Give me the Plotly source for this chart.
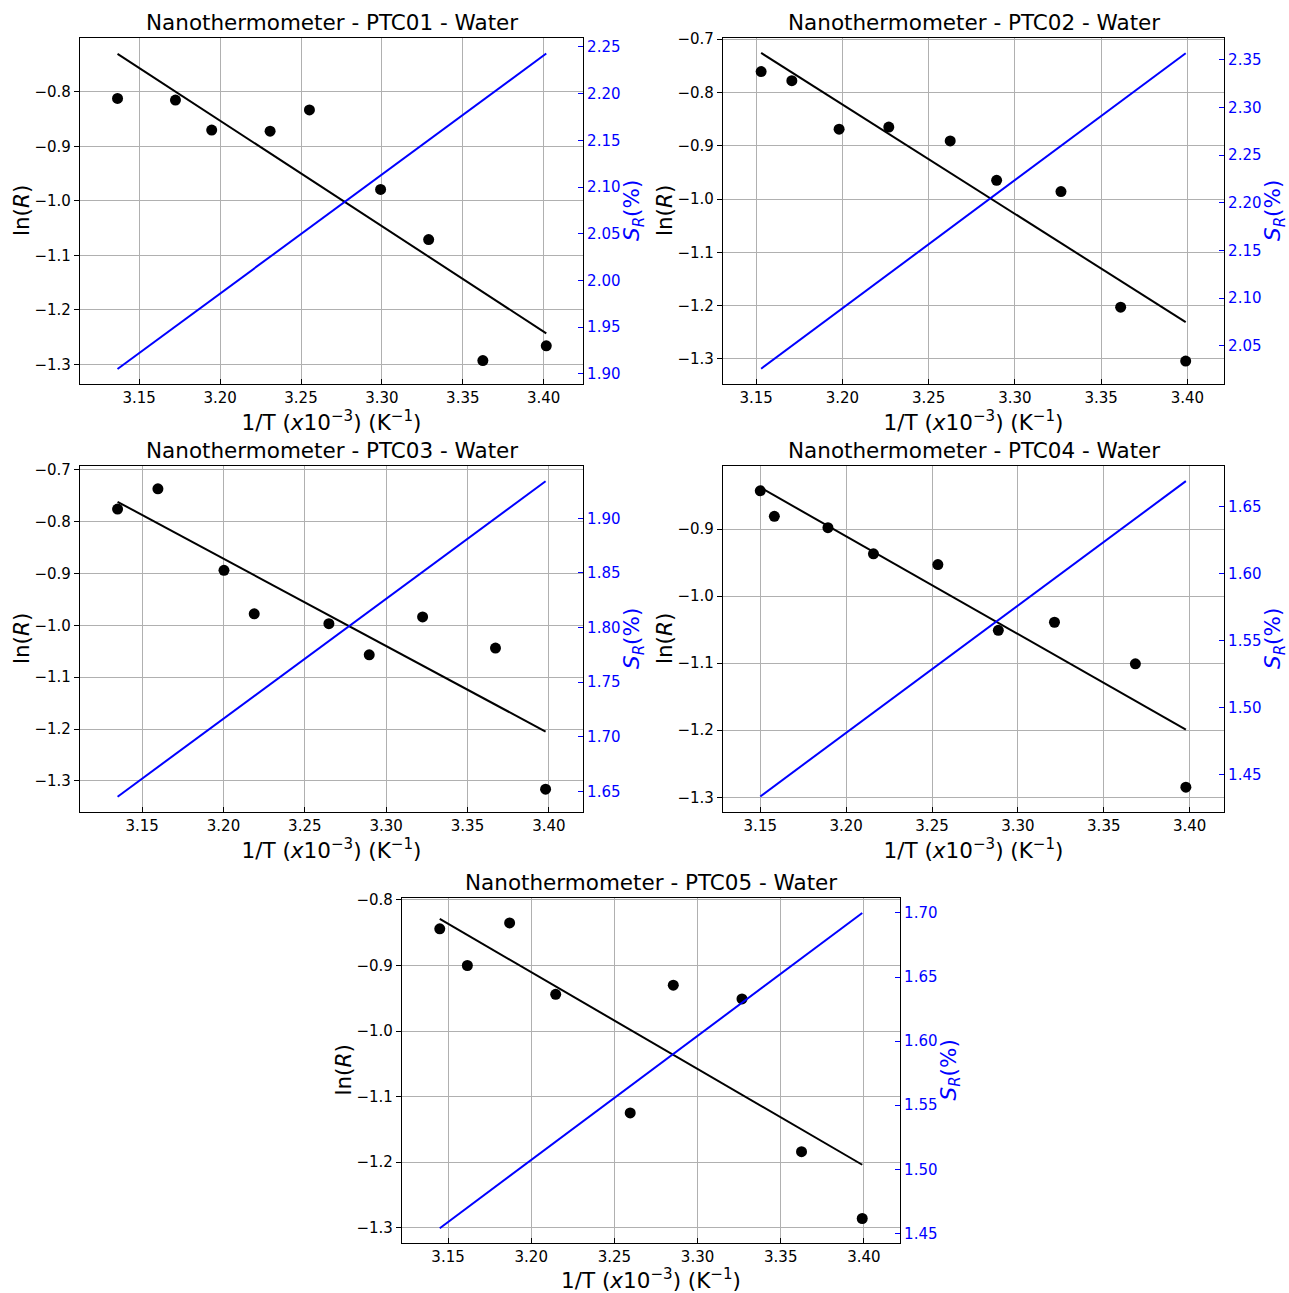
import plotly.graph_objects as go

# ---------------- data ----------------
samples = ["PTC01", "PTC02", "PTC03", "PTC04", "PTC05"]

x1 = [3.1366, 3.1724, 3.1948, 3.2309, 3.2552, 3.2992, 3.3289, 3.3624, 3.4016]
lnR1 = [-0.812, -0.815, -0.870, -0.872, -0.833, -0.979, -1.071, -1.293, -1.266]
fit1 = [-0.730, -1.243]
sr1 = [1.905, 2.243]

x2 = [3.1529, 3.1707, 3.1981, 3.2269, 3.2625, 3.2894, 3.3267, 3.3613, 3.3990]
lnR2 = [-0.761, -0.778, -0.869, -0.865, -0.891, -0.965, -0.986, -1.203, -1.304]
fit2 = [-0.726, -1.231]
sr2 = [2.026, 2.357]

x3 = [3.1349, 3.1597, 3.2003, 3.2189, 3.2648, 3.2896, 3.3224, 3.3672, 3.3980]
lnR3 = [-0.776, -0.737, -0.894, -0.978, -0.997, -1.057, -0.984, -1.044, -1.316]
fit3 = [-0.762, -1.205]
sr3 = [1.645, 1.934]

x4 = [3.1500, 3.1582, 3.1894, 3.2159, 3.2534, 3.2886, 3.3213, 3.3684, 3.3978]
lnR4 = [-0.843, -0.881, -0.898, -0.937, -0.953, -1.051, -1.039, -1.101, -1.285]
fit4 = [-0.838, -1.199]
sr4 = [1.434, 1.669]

x5 = [3.1450, 3.1616, 3.1870, 3.2147, 3.2595, 3.2854, 3.3267, 3.3625, 3.3990]
lnR5 = [-0.844, -0.900, -0.835, -0.944, -1.125, -0.930, -0.951, -1.184, -1.286]
fit5 = [-0.829, -1.204]
sr5 = [1.454, 1.700]

xs = [x1, x2, x3, x4, x5]
lnRs = [lnR1, lnR2, lnR3, lnR4, lnR5]
fits = [fit1, fit2, fit3, fit4, fit5]
srs = [sr1, sr2, sr3, sr4, sr5]

# ---------------- layout config ----------------
W, H = 1289, 1293
# pixel boxes of the plot areas: (left, right, top, bottom)
boxes = [
    (80, 583, 38, 384),
    (723, 1224, 38, 384),
    (80, 583, 466, 812),
    (723, 1224, 466, 812),
    (402, 900, 898, 1243),
]
xranges = [[3.1134, 3.4243], [3.1308, 3.4212], [3.1118, 3.4210], [3.1283, 3.4200], [3.1223, 3.4217]]
yranges = [[-1.336, -0.701], [-1.347, -0.698], [-1.360, -0.693], [-1.322, -0.806], [-1.3234, -0.797]]
y2ranges = [[1.889, 2.2596], [2.010, 2.373], [1.631, 1.948], [1.4224, 1.6803], [1.4425, 1.7117]]

FONT = "DejaVu Sans"
BLUE = "#0000ff"
GRID = "#b0b0b0"
TICK = 15
LAB = 21.5

fig = go.Figure()
layout = dict(
    width=W, height=H,
    margin=dict(l=0, r=0, t=0, b=0, autoexpand=False),
    paper_bgcolor="white", plot_bgcolor="white",
    showlegend=False,
    font=dict(family=FONT, color="black"),
    annotations=[],
)


def ann(text, x, y, color="black", angle=0, xanchor="center", yanchor="middle", yshift=0):
    return dict(text=text, xref="paper", yref="paper", x=x, y=y,
                xanchor=xanchor, yanchor=yanchor, yshift=yshift, textangle=angle,
                showarrow=False, font=dict(size=LAB, family=FONT, color=color))


for i in range(5):
    n = i + 1
    xa = "x" if n == 1 else f"x{n}"
    ya_l = "y" if n == 1 else f"y{2 * n - 1}"
    ya_r = f"y{2 * n}"
    l, r, t, b = boxes[i]
    xdom = [l / W, r / W]
    ydom = [1 - b / H, 1 - t / H]

    fig.add_trace(go.Scatter(
        x=xs[i], y=lnRs[i], mode="markers",
        marker=dict(color="black", size=11),
        xaxis=xa, yaxis=ya_l, cliponaxis=False))
    fig.add_trace(go.Scatter(
        x=[xs[i][0], xs[i][-1]], y=fits[i], mode="lines",
        line=dict(color="black", width=2),
        xaxis=xa, yaxis=ya_l))
    fig.add_trace(go.Scatter(
        x=[xs[i][0], xs[i][-1]], y=srs[i], mode="lines",
        line=dict(color=BLUE, width=2),
        xaxis=xa, yaxis=ya_r))

    xkey = "xaxis" if n == 1 else f"xaxis{n}"
    ylkey = "yaxis" if n == 1 else f"yaxis{2 * n - 1}"
    yrkey = f"yaxis{2 * n}"

    layout[xkey] = dict(
        domain=xdom, range=xranges[i], anchor=ya_l,
        tick0=3.0, dtick=0.05, tickformat=".2f",
        ticks="inside", ticklen=5, tickcolor="black",
        showline=True, linecolor="black", linewidth=1.2, mirror=True,
        showgrid=True, gridcolor=GRID, gridwidth=1, zeroline=False,
        tickfont=dict(size=TICK, family=FONT, color="black"),
        title=dict(text="1/T (<i>x</i>10<sup>−3</sup>) (K<sup>−1</sup>)",
                   font=dict(size=LAB, family=FONT, color="black"), standoff=4),
    )
    layout[ylkey] = dict(
        domain=ydom, range=yranges[i], anchor=xa,
        tick0=0, dtick=0.1, tickformat=".1f",
        ticks="outside", ticklen=5, tickcolor="black",
        showline=True, linecolor="black", linewidth=1.2,
        showgrid=True, gridcolor=GRID, gridwidth=1, zeroline=False,
        tickfont=dict(size=TICK, family=FONT, color="black"),
    )
    layout[yrkey] = dict(
        overlaying=ya_l, side="right", anchor=xa, range=y2ranges[i],
        tick0=0, dtick=0.05, tickformat=".2f",
        ticks="inside", ticklen=5, tickcolor=BLUE,
        showline=True, linecolor="black", linewidth=1.2,
        showgrid=False, zeroline=False,
        tickfont=dict(size=TICK, family=FONT, color=BLUE),
    )
    ymid = (ydom[0] + ydom[1]) / 2
    layout["annotations"].append(ann(
        f"Nanothermometer - {samples[i]} - Water",
        (xdom[0] + xdom[1]) / 2, ydom[1], yanchor="bottom", yshift=1))
    layout["annotations"].append(ann("ln(<i>R</i>)", (l - 59) / W, ymid, angle=-90))
    layout["annotations"].append(ann("<i>S<sub>R</sub></i>(%)", (r + 50) / W, ymid, color=BLUE, angle=-90))

fig.update_layout(**layout)
fig.write_html(
    "out.html",
    config={"displayModeBar": False},
    post_script="document.body.style.margin='0';document.body.style.overflow='hidden';",
)
